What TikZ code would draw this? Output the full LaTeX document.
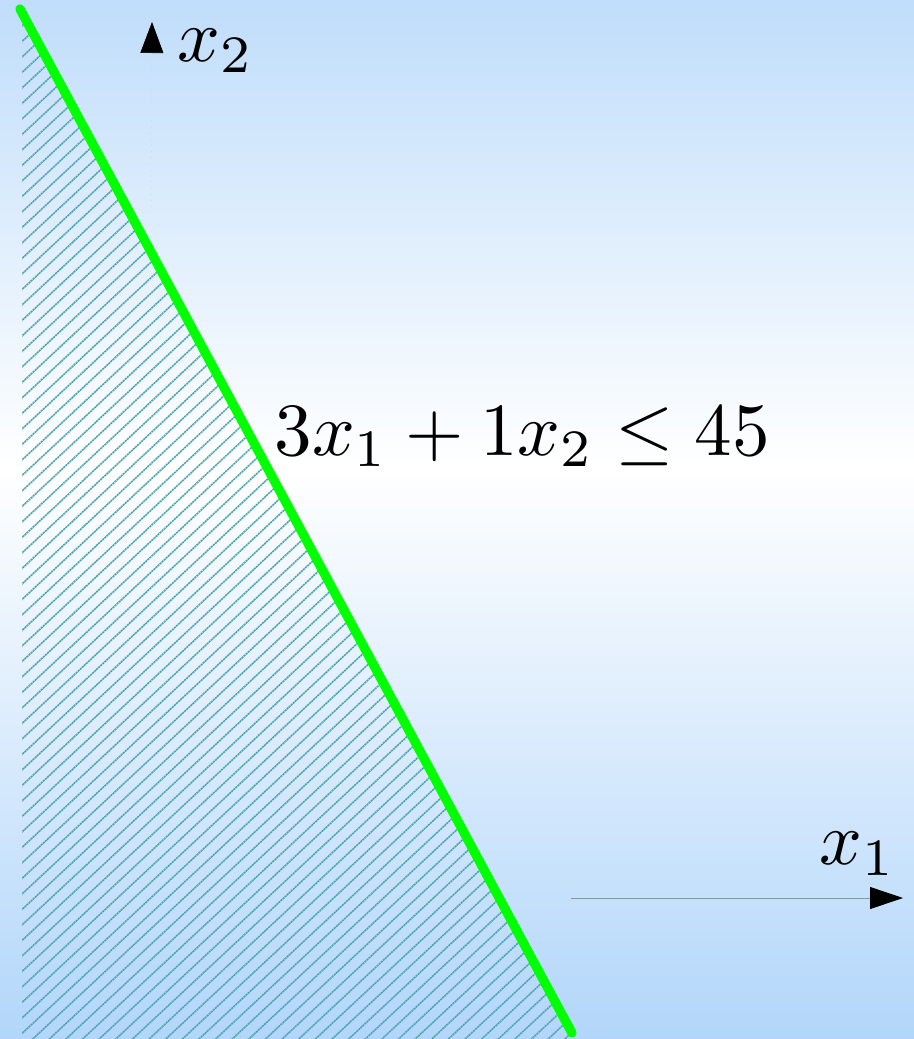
\documentclass[tikz,border=0pt]{standalone}
\usetikzlibrary{arrows.meta}
\definecolor{bgtop}{RGB}{192,221,251}
\definecolor{bgbot}{RGB}{178,214,250}
\definecolor{hatchc}{RGB}{80,165,178}
\definecolor{limegreen}{RGB}{0,255,0}
\definecolor{axisgray}{RGB}{140,150,162}
\pgfdeclareverticalshading{bgshade}{100bp}{color(0bp)=(bgbot); color(25bp)=(bgbot); color(52.5bp)=(white); color(75bp)=(bgtop); color(100bp)=(bgtop)}
\tikzset{
  lbl/.style={inner sep=0pt, anchor=base west, scale=5.63},
  hatchline/.style={draw=hatchc, line width=1.2pt, dash pattern=on 1.6pt off 0.5pt},
  constraint/.style={draw=limegreen, line width=7pt, line cap=round},
  xaxis/.style={draw=axisgray, line width=0.7pt, -{Triangle[length=24.75pt,width=16.5pt,color=black]}},
  yaxis/.style={draw=gray!35, line width=0.5pt, dash pattern=on 0.6pt off 4pt, -{Triangle[length=23.25pt,width=17.25pt,color=black]}}
}
\begin{document}
\begin{tikzpicture}[x=0.75pt,y=-0.75pt]
\useasboundingbox (0,0) rectangle (914,1039);
\shade[shading=bgshade] (0,0) rectangle (914,1039);
% hatched feasible region
\begin{scope}
  \clip (22,8) -- (574,1039) -- (22,1039) -- cycle;
  \foreach \c in {0,15.5,...,1900} {
    \draw[hatchline] (0,\c) -- (914,\c-852);
  }
\end{scope}
% axes
\coordinate (x2s) at (151,250);
\coordinate (x2e) at (152,22);
\draw[yaxis] (x2s) -- (x2e);
\coordinate (x1s) at (571,898);
\coordinate (x1e) at (903,898);
\draw[xaxis] (x1s) -- (x1e);
% constraint line
\coordinate (g1) at (20,9);
\coordinate (g2) at (572,1033);
\draw[constraint] (g1) -- (g2);
% labels
\node[lbl] (lx2) at (176,61) {$x_2$};
\node[lbl] (lx1) at (818,864) {$x_1$};
\node[lbl] (lc) at (273,455) {$3x_1+1x_2\leq 45$};
\end{tikzpicture}
\end{document}
